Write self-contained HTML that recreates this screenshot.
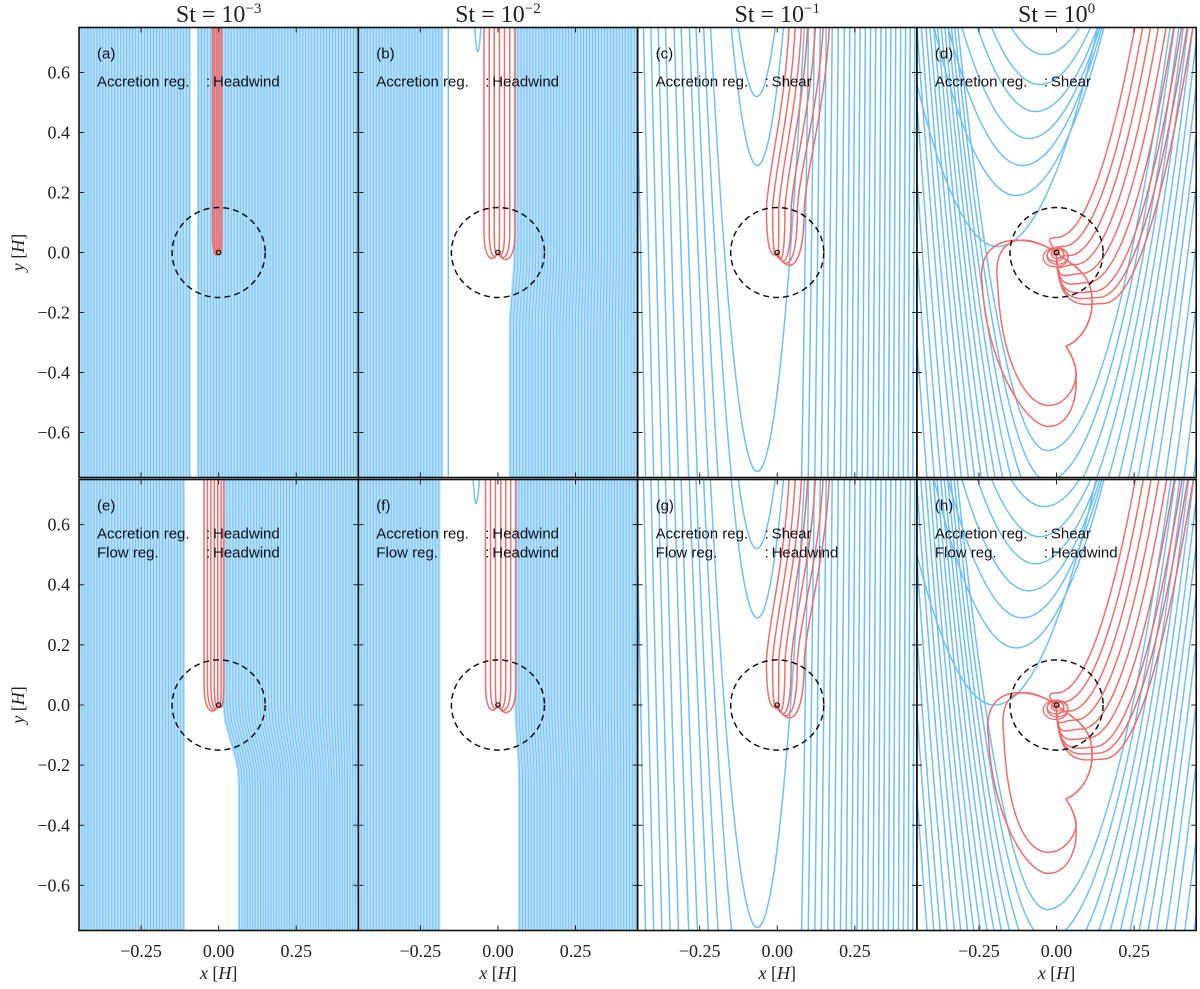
<!DOCTYPE html>
<html><head><meta charset="utf-8">
<style>
html,body{margin:0;padding:0;background:#fff;}
svg{display:block;}
.tl{font-family:"Liberation Serif",serif;font-size:18px;fill:#222;}
.tt{font-family:"Liberation Serif",serif;font-size:24px;fill:#222;}
.pt{font-family:"Liberation Sans",sans-serif;font-size:15px;fill:#111;}
</style></head>
<body>
<svg id="fig" width="1200" height="989" viewBox="0 0 1200 989" xmlns="http://www.w3.org/2000/svg">
<defs id="defs"></defs>
<g id="panels"></g>
<g id="frames"></g>
<g id="labels"></g>
</svg>
<script>
// ---------- axis data ----------
const xTicks = [-0.25, 0, 0.25];
const xTickLabels = ["\u22120.25", "0.00", "0.25"];
const yTicks = [-0.6, -0.4, -0.2, 0, 0.2, 0.4, 0.6];
const yTickLabels = ["\u22120.6", "\u22120.4", "\u22120.2", "0.0", "0.2", "0.4", "0.6"];
const stokesExp = ["\u22123", "\u22122", "\u22121", "0"];
const panelLetters = ["a","b","c","d","e","f","g","h"];
const accretionRegime = ["Headwind","Headwind","Shear","Shear","Headwind","Headwind","Shear","Shear"];
const flowRegime = ["","","","","Headwind","Headwind","Headwind","Headwind"];
const hillRadius = 0.15;

// ---------- headwind panels (a,b,e,f) ----------
const aBandStart = [-0.45, -0.065], aBandEnd = [-0.093, 0.45], aShift = 0, aExtra = [];
const aRedX = [-0.02, -0.014, -0.008, -0.002, 0.004, 0.01];
const bBandStart = [-0.45, 0.055], bBandEnd = [-0.18, 0.45], bShift = -0.015, bExtra = [-0.16];
const bRedX = [-0.045, -0.028, -0.012, 0.005, 0.021, 0.038, 0.055];
const bSmallU = [-0.065, 0.67];
const eBandStart = [-0.45, 0.017], eBandEnd = [-0.11, 0.45], eShift = 0.05, eExtra = [];
const eRedX = [-0.047, -0.036, -0.025, -0.014, -0.003, 0.008, 0.017];
const fBandStart = [-0.45, 0.058], fBandEnd = [-0.19, 0.45], fShift = 0.012, fExtra = [];
const fRedX = [-0.04, -0.024, -0.008, 0.009, 0.025, 0.041, 0.058];
const fSmallU = [-0.07, 0.67];
const bandStep = 0.0096;

// ---------- shear panels (c,g): parabola families ----------
const cUVy = [-0.73, 0.29, 0.52, 0.75];
const cUVx = [-0.064, -0.064, -0.066, -0.066];
const cK = 65, cKR = 220;
const cCrossL = [-0.44, -0.415, -0.39, -0.365, -0.34, -0.31, -0.285, -0.255, -0.23, -0.2];
const cCrossR = [0.09, 0.11, 0.13, 0.15, 0.17, 0.19, 0.21, 0.228, 0.245, 0.262, 0.279, 0.296, 0.313, 0.33, 0.346, 0.362, 0.378, 0.394, 0.41, 0.425, 0.44];
const cRedTopX = [0.04, 0.06, 0.08, 0.1, 0.125, 0.15, 0.17];
const cRedMidX = [-0.035, -0.015, 0.005, 0.025, 0.045, 0.065, 0.087];
const cRedLoopY = [-0.005, -0.012, -0.02, -0.03, -0.04, -0.05, -0.06];
const gUVy = [-0.74, 0.29, 0.52, 0.75];
const gUVx = [-0.064, -0.064, -0.066, -0.066];
const gCrossL = [-0.44, -0.415, -0.39, -0.365, -0.34, -0.31, -0.285, -0.255, -0.23, -0.2];
const gCrossR = [0.09, 0.11, 0.13, 0.15, 0.17, 0.19, 0.21, 0.228, 0.245, 0.262, 0.279, 0.296, 0.313, 0.33, 0.346, 0.362, 0.378, 0.394, 0.41, 0.425, 0.44];
const gRedTopX = [0.04, 0.06, 0.08, 0.1, 0.125, 0.15, 0.17];
const gRedMidX = [-0.035, -0.015, 0.005, 0.025, 0.045, 0.065, 0.087];
const gRedLoopY = [-0.005, -0.012, -0.02, -0.03, -0.04, -0.05, -0.06];

// ---------- shear panels (d,h) ----------
const dTopVy = [0.75, 0.66, 0.56, 0.47, 0.38, 0.29, 0.19, 0.02];
const dTopVx = [-0.025, -0.04, -0.055, -0.068, -0.09, -0.11, -0.13, -0.19];
const dLowVy = [-0.66, -0.76, -0.87, -0.98, -1.1, -1.23, -1.37, -1.52, -1.68, -1.85, -2.05, -2.25, -2.5, -2.75, -3.0, -3.3];
const dRedVx = [0.0, 0.02, 0.04, 0.06, 0.08, 0.1, 0.12, 0.135, 0.15];
const dRedVy = [0.05, 0.02, -0.01, -0.04, -0.07, -0.1, -0.13, -0.15, -0.17];
const dLoopVy = [-0.51, -0.58];
const dLoopW = [0.19, 0.24];
const dSpiralR = [0.012, 0.02, 0.027, 0.034, 0.04];
const hTopVy = [0.75, 0.66, 0.56, 0.47, 0.38, 0.29, 0.19, 0.0];
const hTopVx = [-0.025, -0.04, -0.055, -0.068, -0.09, -0.11, -0.13, -0.2];
const hLowVy = [-0.68, -0.78, -0.89, -1.0, -1.12, -1.25, -1.39, -1.54, -1.7, -1.87, -2.07, -2.27, -2.52, -2.77, -3.02, -3.3];
const hRedVx = [0.0, 0.02, 0.04, 0.06, 0.08, 0.1, 0.12, 0.135, 0.15];
const hRedVy = [0.04, 0.01, -0.02, -0.05, -0.08, -0.11, -0.14, -0.16, -0.18];
const hLoopVy = [-0.49, -0.56];
const hLoopW = [0.17, 0.22];

// ---------- geometry ----------
const NS = "http://www.w3.org/2000/svg";
const COLL = [79, 358.3, 637.6, 916.9], PW = 279.3;
const ROWT = [27.5, 479.5], ROWH = [450, 451];
const BLUE = "#6fbff5", RED = "#ef6d6d";
function X(c, x) { return COLL[c] + (x + 0.45) / 0.9 * PW; }
function Y(r, y) { return ROWT[r] + (0.75 - y) / 1.5 * ROWH[r]; }
function mk(tag, attrs, parent) {
  const e = document.createElementNS(NS, tag);
  for (const k in attrs) e.setAttribute(k, attrs[k]);
  if (parent) parent.appendChild(e);
  return e;
}
function pathFrom(c, r, pts) {
  return pts.map((p, i) => (i ? "L" : "M") + X(c, p[0]).toFixed(2) + " " + Y(r, p[1]).toFixed(2)).join("");
}
const defs = document.getElementById("defs");
const panelsG = document.getElementById("panels");
const framesG = document.getElementById("frames");
const labelsG = document.getElementById("labels");

function panelGroup(i) {
  const c = i % 4, r = Math.floor(i / 4);
  const cp = mk("clipPath", { id: "clip" + i }, defs);
  mk("rect", { x: COLL[c], y: ROWT[r], width: PW, height: ROWH[r] }, cp);
  const g = mk("g", { "clip-path": "url(#clip" + i + ")" }, panelsG);
  
  
  return { g, c, r };
}
function ramp(y) { if (y >= 0) return 0; const t = Math.min(1, -y / 0.25); return t * t * (3 - 2 * t); }

function headwindPanel(i, bs, be, shift, extra, redX, smallU) {
  const { g, c, r } = panelGroup(i);
  const stepPx = bandStep * PW / 0.9;
  const fillG = mk("g", { stroke: "#b9e0fb", "stroke-width": (stepPx + 0.4).toFixed(2), fill: "none" }, g);
  
  
  const blueG = mk("g", { stroke: "#74c2f7", "stroke-width": 1, fill: "none" }, g);
  
  
  for (let b = 0; b < bs.length; b++) {
    for (let x = bs[b]; x <= be[b] + 1e-9; x += bandStep) {
      const pts = [];
      for (let k = 0; k <= 30; k++) {
        const y = 0.8 - 1.6 * k / 30;
        let xx = x;
        if (b === 1) xx = x + shift * (1 - (x - bs[1]) / (0.45 - bs[1] + 1e-9)) * ramp(y);
        pts.push([xx, y]);
      }
      const d = pathFrom(c, r, pts);
      const fp = mk("path", { d }, fillG);
      
      
      const p = mk("path", { d }, blueG);
      
      
    }
  }
  extra.forEach(x => {
    const p = mk("path", { d: pathFrom(c, r, [[x, 0.8], [x, -0.8]]), "stroke-width": 1.4 }, blueG);
    
    
  });
  if (smallU) {
    const pts = [];
    for (let k = -20; k <= 20; k++) { const d = k / 20 * 0.012; pts.push([smallU[0] + d, smallU[1] + 800 * d * d]); }
    const p = mk("path", { d: pathFrom(c, r, pts), "stroke-width": 1.5 }, blueG);
    
    
  }
  const redG = mk("g", { stroke: RED, "stroke-width": 1.5, fill: "none" }, g);
  
  
  redX.forEach(x => {
    const yb = -Math.abs(x) * 0.6 - 0.006;
    const d = "M" + X(c, x) + " " + Y(r, 0.8) + "L" + X(c, x) + " " + Y(r, 0.07) +
      "C" + X(c, x) + " " + Y(r, yb) + " " + X(c, x * 0.3) + " " + Y(r, yb) + " " + X(c, 0) + " " + Y(r, 0);
    const p = mk("path", { d }, redG);
    
    
  });
  overlay(g, c, r);
}

function armPts(vx, vy, k, side) {
  const ymin = -0.8, ymax = 0.8;
  if (vy > ymax) return [];
  const d0 = vy < ymin ? Math.sqrt((ymin - vy) / k) : 0;
  const d1 = Math.sqrt((ymax - vy) / k);
  const pts = [];
  for (let n = 0; n <= 50; n++) { const d = d0 + (d1 - d0) * n / 50; pts.push([vx + side * d, vy + k * d * d]); }
  return pts;
}
function drawU(g, c, r, vx, vy, kL, kR, color, name) {
  const L = armPts(vx, vy, kL, -1).reverse();
  const R = armPts(vx, vy, kR, 1);
  let pts;
  if (vy >= -0.8) pts = L.concat(R);
  else {
    if (L.length) { const p = mk("path", { d: pathFrom(c, r, L), stroke: color }, g);   }
    pts = R;
  }
  if (!pts.length) return;
  const p = mk("path", { d: pathFrom(c, r, pts), stroke: color }, g);
  
  
}
function drawArm(g, c, r, vx, vy, k, side, color) {
  const pts = armPts(vx, vy, k, side);
  const p = mk("path", { d: pathFrom(c, r, pts), stroke: color }, g);
  
  
}

function shearWeak(i, uVy, uVx, crossL, crossR, redTop, redMid, redLoop) {
  const { g, c, r } = panelGroup(i);
  const sg = mk("g", { fill: "none", "stroke-width": 1.5 }, g);
  
  
  uVy.forEach((vy, j) => drawU(sg, c, r, uVx[j], vy, cK, cK, BLUE, 'u-streamline'));
  crossL.forEach(x0 => { const xv = uVx[0]; drawArm(sg, c, r, xv, -cK * (x0 - xv) ** 2, cK, -1, BLUE); });
  crossR.forEach(x0 => { const xv = uVx[0]; drawArm(sg, c, r, xv, -cKR * (x0 - xv) ** 2, cKR, 1, BLUE); });
  redTop.forEach((xt, j) => {
    const xm = redMid[j], ly = redLoop[j];
    const d = "M" + X(c, xt) + " " + Y(r, 0.8) +
      "C" + X(c, xt - 0.01) + " " + Y(r, 0.5) + " " + X(c, xm + 0.01) + " " + Y(r, 0.3) + " " + X(c, xm) + " " + Y(r, 0.15) +
      "C" + X(c, xm) + " " + Y(r, ly - 0.012) + " " + X(c, xm * 0.35) + " " + Y(r, ly - 0.012) + " " + X(c, 0) + " " + Y(r, 0);
    const p = mk("path", { d, stroke: RED }, sg);
    
    
  });
  overlay(g, c, r);
}

function shearStrong(i, topVy, topVx, lowVy, redVx, redVy, loopVy, loopW) {
  const { g, c, r } = panelGroup(i);
  const sg = mk("g", { fill: "none", "stroke-width": 1.5 }, g);
  
  
  topVy.forEach((vy, j) => drawU(sg, c, r, topVx[j], vy, 8, 7, BLUE, 'u-streamline'));
  lowVy.forEach(vy => drawU(sg, c, r, -0.03, vy, 17, 9, BLUE, 'u-streamline'));
  redVx.forEach((vx, j) => {
    const vy = redVy[j];
    const arm = armPts(vx, vy, 11, 1);
    let d = "M" + X(c, 0) + " " + Y(r, 0) + "C" + X(c, 0) + " " + Y(r, vy - 0.04) + " " + X(c, vx - 0.05) + " " + Y(r, vy) + " " + X(c, vx) + " " + Y(r, vy);
    d += pathFrom(c, r, arm).replace(/^M/, "L");
    const p = mk("path", { d, stroke: RED }, sg);
    
    
  });
  loopVy.forEach((vy, j) => {
    const w = loopW[j], vx = -0.025;
    const P = (x, y) => X(c, x).toFixed(1) + " " + Y(r, y).toFixed(1);
    const d = "M" + P(0, 0) + "C" + P(-0.1, 0.07) + " " + P(-w - 0.02, 0.06) + " " + P(-w, -0.1) +
      "C" + P(-w + 0.01, -0.35) + " " + P(vx - 0.08, vy) + " " + P(vx, vy) +
      "C" + P(vx + 0.06, vy) + " " + P(0.075, vy + 0.08) + " " + P(0.06, -0.38) +
      "C" + P(0.05, -0.33) + " " + P(0.02, -0.31) + " " + P(0.035, -0.31) +
      "C" + P(0.08, -0.29) + " " + P(0.13, -0.22) + " " + P(0.11, -0.12) +
      "C" + P(0.09, -0.05) + " " + P(0.03, -0.03) + " " + P(0, 0);
    const p = mk("path", { d, stroke: RED }, sg);
    
    
  });
  dSpiralR.forEach((rr, j) => {
    const e = mk("ellipse", { cx: X(c, 0.003 * (j % 2 ? 1 : -1)), cy: Y(r, -0.004 * j), rx: rr * PW / 0.9, ry: rr * 0.8 * ROWH[r] / 1.5, stroke: RED, "stroke-width": 1.3 }, sg);
    
    
  });
  overlay(g, c, r);
}

function overlay(g, c, r) {
  const e = mk("ellipse", { cx: X(c, 0), cy: Y(r, 0), rx: hillRadius * PW / 0.9, ry: hillRadius * ROWH[r] / 1.5, fill: "none", stroke: "#111", "stroke-width": 1.5, "stroke-dasharray": "6 4" }, g);
  
  
  const p = mk("circle", { cx: X(c, 0), cy: Y(r, 0), r: 2.2, fill: "none", stroke: "#111", "stroke-width": 1.2 }, g);
  
  
}

headwindPanel(0, aBandStart, aBandEnd, aShift, aExtra, aRedX, null);
headwindPanel(1, bBandStart, bBandEnd, bShift, bExtra, bRedX, bSmallU);
shearWeak(2, cUVy, cUVx, cCrossL, cCrossR, cRedTopX, cRedMidX, cRedLoopY);
shearStrong(3, dTopVy, dTopVx, dLowVy, dRedVx, dRedVy, dLoopVy, dLoopW);
headwindPanel(4, eBandStart, eBandEnd, eShift, eExtra, eRedX, null);
headwindPanel(5, fBandStart, fBandEnd, fShift, fExtra, fRedX, fSmallU);
shearWeak(6, gUVy, gUVx, gCrossL, gCrossR, gRedTopX, gRedMidX, gRedLoopY);
shearStrong(7, hTopVy, hTopVx, hLowVy, hRedVx, hRedVy, hLoopVy, hLoopW);

// frames, ticks, labels
for (let i = 0; i < 8; i++) {
  const c = i % 4, r = Math.floor(i / 4);
  const x0 = COLL[c], y0 = ROWT[r], x1 = x0 + PW, y1 = y0 + ROWH[r];
  const f = mk("rect", { x: x0, y: y0, width: PW, height: ROWH[r], fill: "none", stroke: "#111", "stroke-width": 1.6 }, framesG);
  
  
  let d = "";
  xTicks.forEach(t => { const xx = X(c, t); d += "M" + xx + " " + y0 + "v5M" + xx + " " + y1 + "v-5"; });
  yTicks.forEach(t => { const yy = Y(r, t); d += "M" + x0 + " " + yy + "h5M" + x1 + " " + yy + "h-5"; });
  const tk = mk("path", { d, stroke: "#222", "stroke-width": 1 }, framesG);
  
  
  const lt = mk("text", { x: x0 + 18, y: y0 + 31, class: "pt" }, labelsG);
  lt.textContent = "(" + panelLetters[i] + ")";
  
  
  const rows = [["Accretion reg.", accretionRegime[i]]];
  if (flowRegime[i]) rows.push(["Flow reg.", flowRegime[i]]);
  rows.forEach((rw, k) => {
    const yy = y0 + 59 + k * 19;
    const a = mk("text", { x: x0 + 18, y: yy, class: "pt" }, labelsG); a.textContent = rw[0];
    
    
    const b = mk("text", { x: x0 + 127, y: yy, class: "pt" }, labelsG); b.textContent = ":";
    
    
    const v = mk("text", { x: x0 + 134, y: yy, class: "pt" }, labelsG); v.textContent = rw[1];
    
    
  });
}
for (let c = 0; c < 4; c++) {
  const t = mk("text", { x: X(c, 0), y: 22, class: "tt", "text-anchor": "middle" }, labelsG);
  
  
  t.innerHTML = 'St = 10<tspan dy="-9" font-size="15">' + stokesExp[c] + '</tspan>';
  xTicks.forEach((v, j) => {
    const l = mk("text", { x: X(c, v), y: 957, class: "tl", "text-anchor": "middle" }, labelsG);
    l.textContent = xTickLabels[j];
    
    
  });
  const xl = mk("text", { x: X(c, 0), y: 979, class: "tl", "text-anchor": "middle" }, labelsG);
  xl.innerHTML = '<tspan font-style="italic">x</tspan> [<tspan font-style="italic">H</tspan>]';
  
  
}
for (let r = 0; r < 2; r++) {
  yTicks.forEach((v, j) => {
    const l = mk("text", { x: 70, y: Y(r, v) + 6, class: "tl", "text-anchor": "end" }, labelsG);
    l.textContent = yTickLabels[j];
    
    
  });
  const cy = Y(r, 0);
  const yl = mk("text", { x: 24, y: cy, class: "tl", "text-anchor": "middle", transform: "rotate(-90 24 " + cy + ")" }, labelsG);
  yl.innerHTML = '<tspan font-style="italic">y</tspan> [<tspan font-style="italic">H</tspan>]';
  
  
}
</script>
</body></html>
